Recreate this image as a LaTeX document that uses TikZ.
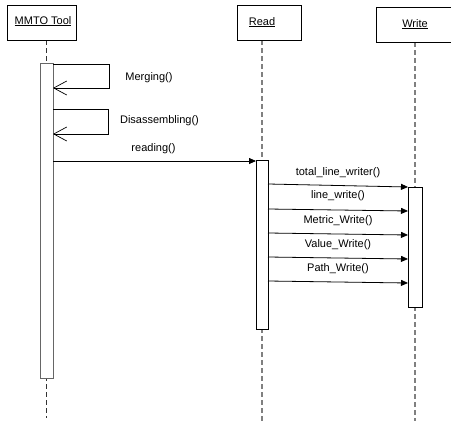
\documentclass[tikz,border=0pt]{standalone}
\usepackage{fontspec}
\setmainfont{Liberation Sans}
\usetikzlibrary{arrows.meta}
\begin{document}
\begin{tikzpicture}[x=1pt,y=-1pt,
  lbl/.style={font=\fontsize{11}{13}\selectfont, anchor=base, inner sep=0pt},
  objbox/.style={draw=black, line width=0.7pt, fill=white},
  actbar/.style={draw=black, line width=0.7pt, fill=white},
  lifeline/.style={draw=gray, dash pattern=on 5pt off 3pt, line width=1.1pt},
  msg/.style={draw=black, line width=0.8pt, -{Triangle[length=7pt,width=6pt]}},
  selfmsg/.style={draw=black, line width=0.8pt, -{Straight Barb[length=13pt,width=14pt,line width=0.7pt]}}]
\useasboundingbox (0,0) rectangle (451,421);
\clip (0,0) rectangle (451,421);
\fill[white] (0,0) rectangle (451,421);

% lifelines
\draw[lifeline, draw=black!80] (46.5,40) -- (46.5,418);
\draw[lifeline] (262,40) -- (262,421);
\draw[lifeline] (415,42) -- (415,421);

% object boxes
\draw[objbox] (7,5) rectangle (76,40);
\node[lbl] (mmto) at (43,24) {\underline{MMTO Tool}};
\draw[objbox] (237,5) rectangle (301,40);
\node[lbl] (read) at (262,25) {\underline{Read}};
\draw[objbox] (376,7) rectangle (454,42);
\node[lbl] (write) at (415,27) {\underline{Write}};

% activation bars
\draw[actbar, draw=gray!80!black] (40,63) rectangle (53,378);
\draw[actbar] (256,160) rectangle (268,329);
\draw[actbar] (408,187) rectangle (422,307);

% coordinates
\coordinate (m1a) at (53,64);
\coordinate (m1b) at (109,64);
\coordinate (m1c) at (109,88);
\coordinate (m1d) at (53,88);
\coordinate (m2a) at (53,109);
\coordinate (m2b) at (108,109);
\coordinate (m2c) at (108,134);
\coordinate (m2d) at (53,134);
\coordinate (r1) at (53,161);
\coordinate (r2) at (256,161);
\foreach \n/\ya/\yb in {1/184/187, 2/209/211, 3/233/235, 4/257/259, 5/281/283} {
  \coordinate (w\n a) at (268,\ya);
  \coordinate (w\n b) at (408,\yb);
}

% self messages
\draw[selfmsg] (m1a) -- (m1b) -- (m1c) -- (m1d);
\draw[selfmsg] (m2a) -- (m2b) -- (m2c) -- (m2d);
\node[lbl] (lmerge) at (149,80) {Merging()};
\node[lbl] (ldis) at (159.5,123) {Disassembling()};

% reading
\draw[msg] (r1) -- (r2);
\node[lbl] (lread) at (153.5,151) {reading()};

% write messages
\foreach \n in {1,...,5} { \draw[msg] (w\n a) -- (w\n b); }
\node[lbl] (l1) at (338,175) {total\_line\_writer()};
\node[lbl] (l2) at (338,198) {line\_write()};
\node[lbl] (l3) at (338,223) {Metric\_Write()};
\node[lbl] (l4) at (338,247) {Value\_Write()};
\node[lbl] (l5) at (338,271) {Path\_Write()};
\end{tikzpicture}
\end{document}
